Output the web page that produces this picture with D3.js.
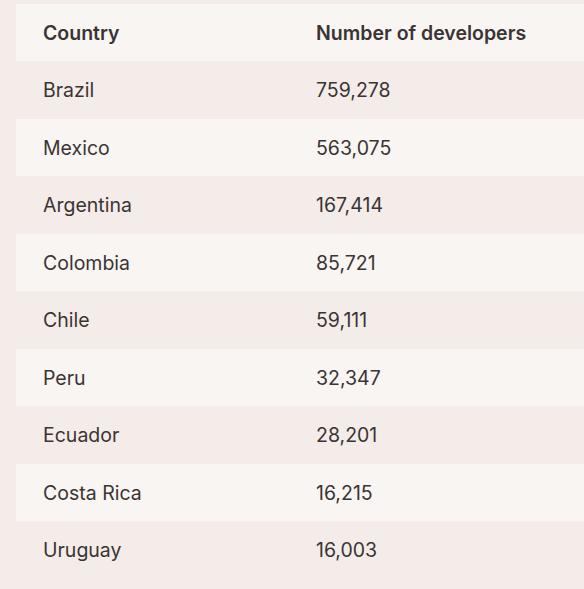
<!DOCTYPE html>
<html><head><meta charset="utf-8">
<script src="https://cdn.jsdelivr.net/npm/d3@7"></script>
<style>body{margin:0;background:#f4ece8;}svg{display:block;}</style>
</head><body><svg id="chart" width="584" height="589"></svg>
<script>
const headers = ["Country", "Number of developers"];
const countries = ["Brazil", "Mexico", "Argentina", "Colombia", "Chile", "Peru", "Ecuador", "Costa Rica", "Uruguay"];
const developers = [759278, 563075, 167414, 85721, 59111, 32347, 28201, 16215, 16003];

const svg = d3.select("#chart");
const rowH = 57.5, tableTop = 4, tableLeft = 16;
const fmt = d3.format(",");
const rowY = i => tableTop + i * rowH;

// striped row backgrounds (header + odd rows light)
const rows = [headers].concat(countries.map((c, i) => [c, fmt(developers[i])]));
svg.selectAll("rect.row").data(rows).join("rect")
	.attr("class", "row")
	.attr("x", tableLeft).attr("y", (d, i) => rowY(i))
	.attr("width", 584 - tableLeft).attr("height", rowH)
	.attr("fill", (d, i) => i % 2 === 0 ? "#f9f5f2" : "#f4ece8");

const g = svg.selectAll("g.cells").data(rows).join("g").attr("class", "cells");
g.append("text").attr("x", 43).attr("y", (d, i) => rowY(i) + rowH / 2 + 7)
	.text(d => d[0]);
g.append("text").attr("x", 316).attr("y", (d, i) => rowY(i) + rowH / 2 + 7)
	.text(d => d[1]);
g.selectAll("text")
	.attr("font-family", "Inter, 'Noto Sans', sans-serif")
	.attr("font-size", 19.5)
	.attr("fill", "#3b3434");
g.filter((d, i) => i === 0).selectAll("text").attr("font-weight", 600);
</script></body></html>
